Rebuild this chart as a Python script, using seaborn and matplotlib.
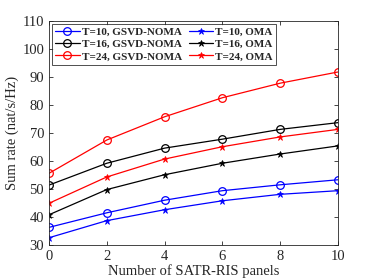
import pandas as pd
import matplotlib
matplotlib.use('Agg')
import matplotlib.pyplot as plt
import seaborn as sns

# panels on x axis
panels = [0, 2, 4, 6, 8, 10]

# sum rate values
t10_noma = [36.3, 41.5, 46.0, 49.4, 51.5, 53.3]
t10_oma = [32.6, 38.7, 42.6, 45.8, 48.1, 49.4]
t16_noma = [51.4, 59.2, 64.6, 67.8, 71.3, 73.7]
t16_oma = [40.8, 49.8, 55.1, 59.2, 62.5, 65.4]
t24_noma = [55.6, 67.5, 75.8, 82.6, 87.8, 91.8]
t24_oma = [44.9, 54.3, 60.7, 65.1, 68.6, 71.3]

series = [
    ('T=10, GSVD-NOMA', t10_noma, 'blue', 'o'),
    ('T=10, OMA', t10_oma, 'blue', '*'),
    ('T=16, GSVD-NOMA', t16_noma, 'black', 'o'),
    ('T=16, OMA', t16_oma, 'black', '*'),
    ('T=24, GSVD-NOMA', t24_noma, 'red', 'o'),
    ('T=24, OMA', t24_oma, 'red', '*'),
]

sns.set_style('ticks')
plt.rcParams['font.family'] = ['Liberation Serif', 'DejaVu Serif']

fig = plt.figure(figsize=(3.74, 2.8), dpi=100)
ax = fig.add_axes([0.131, 0.125, 0.773, 0.80])

for name, vals, color, mk in series:
    df = pd.DataFrame({'x': panels, 'y': vals})
    if mk == 'o':
        sns.lineplot(data=df, x='x', y='y', ax=ax, color=color, lw=0.9,
                     marker='o', markersize=5.5, markerfacecolor='none',
                     markeredgecolor=color, markeredgewidth=0.9, label=name)
    else:
        sns.lineplot(data=df, x='x', y='y', ax=ax, color=color, lw=0.9,
                     marker='*', markersize=4.5, markerfacecolor=color,
                     markeredgecolor=color, markeredgewidth=0.5, label=name)

ax.set_xlim(0, 10)
ax.set_ylim(30, 110)
ax.set_xticks([0, 2, 4, 6, 8, 10])
ax.set_yticks(range(30, 111, 10))
ax.tick_params(direction='in', top=True, right=True, labelsize=10.5, length=3, width=0.6, colors='#262626')
for s in ax.spines.values():
    s.set_linewidth(0.6)
    s.set_color('#262626')
ax.set_xlabel('Number of SATR-RIS panels', fontsize=10.5, labelpad=1)
ax.set_ylabel('Sum rate (nat/s/Hz)', fontsize=10.5, labelpad=2)

# legend order: NOMA column then OMA column
h, l = ax.get_legend_handles_labels()
order = [0, 2, 4, 1, 3, 5]
leg = ax.legend([h[i] for i in order], [l[i] for i in order], ncol=2, loc='upper left',
                prop={'weight': 'bold', 'size': 8}, frameon=True, fancybox=False,
                edgecolor='black', borderaxespad=0.25, handlelength=2.2,
                handletextpad=0.2, columnspacing=0.6, labelspacing=0.22, borderpad=0.3)
leg.get_frame().set_linewidth(0.6)

fig.savefig('out.png', dpi=100)
